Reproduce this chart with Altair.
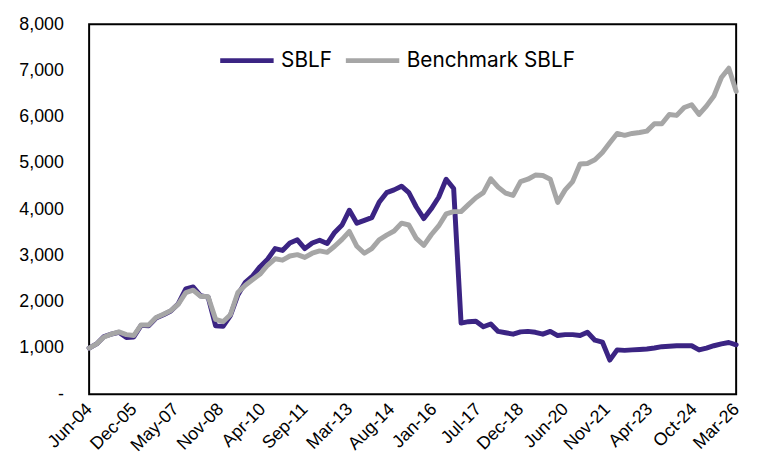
import altair as alt
import pandas as pd

# Quarterly observations from Jun-2004 to Mar-2026
dates = pd.date_range("2004-06-01", periods=88, freq="3MS").strftime("%Y-%m-%d").tolist()

sblf = [
    1000, 1090, 1250, 1300, 1340, 1230, 1240, 1490, 1480, 1650,
    1720, 1800, 1960, 2280, 2320, 2130, 2100, 1480, 1470, 1700,
    2150, 2420, 2560, 2760, 2920, 3150, 3110, 3270, 3340, 3150,
    3270, 3330, 3260, 3500, 3660, 3980, 3700, 3760, 3820, 4150,
    4360, 4420, 4500, 4360, 4050, 3800, 4010, 4260, 4650, 4450,
    1540, 1570, 1580, 1460, 1520, 1360, 1330, 1300, 1350, 1360,
    1340, 1300, 1360, 1270, 1290, 1290, 1270, 1340, 1170, 1130,
    740, 960, 950, 960, 970, 980, 1000, 1030, 1040, 1050,
    1050, 1050, 960, 1000, 1050, 1090, 1120, 1070,
]

bench = [
    1000, 1090, 1240, 1300, 1350, 1290, 1270, 1500, 1500, 1660,
    1730, 1810, 1950, 2200, 2250, 2120, 2110, 1620, 1570, 1720,
    2200, 2360, 2480, 2600, 2790, 2930, 2900, 2990, 3020, 2960,
    3050, 3100, 3070, 3200, 3350, 3520, 3200, 3050, 3150, 3340,
    3440, 3530, 3700, 3660, 3370, 3220, 3450, 3640, 3900, 3950,
    3950, 4100, 4250, 4360, 4660, 4480, 4350, 4300, 4600, 4650,
    4740, 4730, 4650, 4150, 4420, 4600, 4980, 4990, 5070, 5230,
    5440, 5640, 5600, 5640, 5660, 5690, 5850, 5850, 6050, 6030,
    6200, 6260, 6050, 6230, 6450, 6850, 7050, 6550,
]

series_names = ["SBLF", "Benchmark SBLF"]
series_colors = ["#3B2483", "#A6A6A6"]

tick_labels = [
    (2004, 6), (2005, 12), (2007, 5), (2008, 11), (2010, 4), (2011, 9),
    (2013, 3), (2014, 8), (2016, 1), (2017, 7), (2018, 12), (2020, 6),
    (2021, 11), (2023, 4), (2024, 10), (2026, 3),
]
y_ticks = [0, 1000, 2000, 3000, 4000, 5000, 6000, 7000, 8000]

df = pd.DataFrame({
    "date": dates * 2,
    "value": sblf + bench,
    "series": [series_names[0]] * len(dates) + [series_names[1]] * len(dates),
})

x_enc = alt.X(
    "date:T",
    scale=alt.Scale(
        type="utc",
        domain=[alt.DateTime(year=2004, month=6, date=1, utc=True),
                alt.DateTime(year=2026, month=3, date=1, utc=True)],
        nice=False,
    ),
    axis=alt.Axis(
        title=None,
        values=[alt.DateTime(year=y, month=m, date=1, utc=True) for y, m in tick_labels],
        format="%b-%y",
        labelAngle=-45,
        labelAlign="right",
        labelBaseline="middle",
        labelPadding=12,
        ticks=False,
        domain=False,
        grid=False,
        labelFont="Liberation Sans",
        labelFontSize=18,
        labelColor="#000000",
        labelOverlap=False,
        labelBound=False,
        labelFlush=False,
    ),
)

y_enc = alt.Y(
    "value:Q",
    scale=alt.Scale(domain=[0, 8000], nice=False),
    axis=alt.Axis(
        title=None,
        values=y_ticks,
        labelExpr="datum.value == 0 ? '-' : format(datum.value, ',')",
        ticks=False,
        domain=False,
        grid=False,
        labelPadding=26,
        labelFont="Liberation Sans",
        labelFontSize=18,
        labelColor="#000000",
    ),
)

color_enc = alt.Color(
    "series:N",
    scale=alt.Scale(domain=series_names, range=series_colors),
    legend=alt.Legend(
        title=None,
        orient="none",
        direction="horizontal",
        legendX=130,
        legendY=7,
        symbolType="stroke",
        symbolStrokeWidth=5,
        symbolSize=2916,
        labelFont="Inter",
        labelFontSize=21,
        labelColor="#000000",
        labelOffset=5,
        labelLimit=400,
        columnPadding=3,
    ),
)

base = alt.Chart(df).mark_line(strokeWidth=5, strokeJoin="round", strokeCap="round")

purple = base.transform_filter(alt.datum.series == "SBLF").encode(
    x=x_enc, y=y_enc, color=color_enc
)
gray = base.transform_filter(alt.datum.series == "Benchmark SBLF").encode(
    x=x_enc, y=y_enc, color=color_enc
)

chart = (
    alt.layer(purple, gray)
    .properties(
        width=654,
        height=374,
        autosize=alt.AutoSizeParams(type="none"),
        padding={"left": 82, "top": 14, "right": 14, "bottom": 69},
        background="white",
    )
    .configure_view(stroke="#000000", strokeWidth=2)
)

chart.save("out.html", embed_options={"renderer": "svg", "actions": False})
